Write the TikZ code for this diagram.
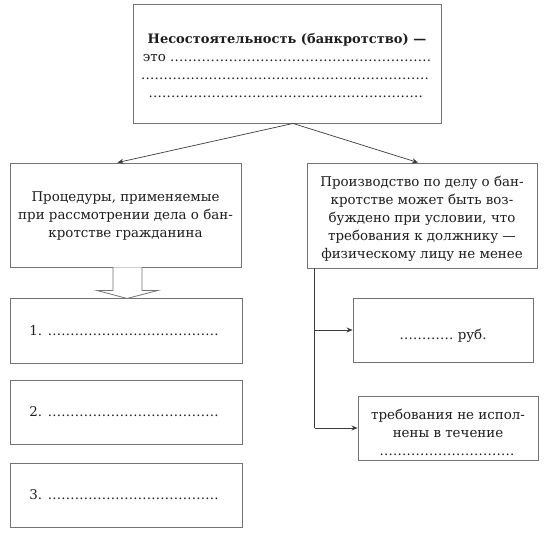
\documentclass[tikz,border=0pt]{standalone}
\usepackage{fontspec}
\setmainfont{DejaVu Serif}
\usetikzlibrary{arrows.meta}
\definecolor{boxc}{RGB}{115,115,115}
\definecolor{linec}{RGB}{60,60,60}
\definecolor{txt}{RGB}{30,30,30}
\newcommand{\dotrule}[1]{\mbox{\leaders\hbox to 4.5pt{\hss.\hss}\hskip #1\relax}}
\tikzset{
  boxnode/.style={draw=boxc, line width=0.9pt, inner sep=0pt},
  txtnode/.style={inner sep=0pt, text=txt, align=center,
    font=\fontsize{13.4}{18}\selectfont},
  conn/.style={draw=linec, line width=0.7pt, -{Stealth[length=6pt,width=5pt]}},
  trunk/.style={draw=linec, line width=0.9pt},
  blockarrow/.style={draw=boxc, line width=0.8pt, fill=white, line join=miter}
}
\begin{document}
\begin{tikzpicture}[x=1pt,y=-1pt]
\useasboundingbox[fill=white] (0,0) rectangle (547,539);
% boxes
\node[boxnode, minimum width=308pt, minimum height=119pt] (top) at (287,63.5) {};
\node[boxnode, minimum width=231pt, minimum height=104pt] (left) at (125.5,215) {};
\node[boxnode, minimum width=230pt, minimum height=105pt] (right) at (422,215.5) {};
\node[boxnode, minimum width=232pt, minimum height=65pt] (p1) at (126,330.5) {};
\node[boxnode, minimum width=232pt, minimum height=64pt] (p2) at (126,412) {};
\node[boxnode, minimum width=232pt, minimum height=64pt] (p3) at (126,495) {};
\node[boxnode, minimum width=180pt, minimum height=64pt] (a) at (443,330) {};
\node[boxnode, minimum width=180pt, minimum height=64pt] (b) at (448,428) {};
% texts
\node[txtnode] (topt) at ([yshift=-2pt]top.center)
  {{\fontsize{13}{18}\selectfont\textbf{Несостоятельность (банкротство) —}}\\
   \mbox{это \dotrule{261pt}}\\
   \dotrule{292pt}\\[0.5pt]
   \dotrule{277pt}};
\node[txtnode] (leftt) at ([yshift=-1pt]left.center)
  {Процедуры, применяемые\\при рассмотрении дела о бан-\\кротстве гражданина};
\node[txtnode] (rightt) at ([yshift=-3pt]right.center)
  {Производство по делу о бан-\\кротстве может быть воз-\\буждено при условии, что\\требования к должнику —\\физическому лицу не менее};
\node[txtnode] (p1t) at (p1.center) {\mbox{1. \dotrule{175pt}}};
\node[txtnode] (p2t) at (p2.center) {\mbox{2. \dotrule{175pt}}};
\node[txtnode] (p3t) at (p3.center) {\mbox{3. \dotrule{175pt}}};
\node[txtnode] (at) at ([yshift=-5.5pt]a.center) {\mbox{\dotrule{54pt} руб.}};
\node[txtnode] (bt) at ([yshift=-4pt]b.center)
  {требования не испол-\\нены в течение\\\dotrule{137pt}};
% connectors from top
\draw[conn] ([xshift=6pt]top.south) -- ([xshift=-8pt]left.north);
\draw[conn] ([xshift=6pt]top.south) -- ([xshift=-4pt]right.north);
% block arrow
\draw[blockarrow] ([xshift=-12.5pt]left.south) -- ++(0,23) -- ++(-16,0)
  -- ([xshift=1.5pt,yshift=-31pt]left.south) -- ++(31,-8) -- ++(-16,0)
  -- ([xshift=16.5pt]left.south);
% trunk on right
\coordinate (v) at ([xshift=8pt]right.south west);
\draw[trunk] (v) -- (v |- b.west);
\draw[conn] (v |- a.west) -- (a.west);
\draw[conn] (v |- b.west) -- (b.west);
\end{tikzpicture}
\end{document}
